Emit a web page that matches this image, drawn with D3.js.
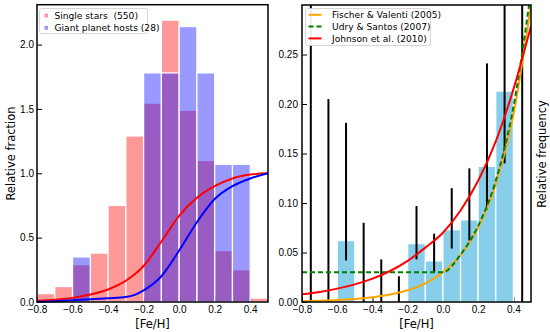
<!DOCTYPE html>
<html>
<head>
<meta charset="utf-8">
<script src="https://cdn.jsdelivr.net/npm/d3@7"></script>
<style>
  body { margin: 0; background: #fff; }
  svg { display: block; font-family: "DejaVu Sans", sans-serif; }
  .tick text { font-size: 10px; fill: #000; }
</style>
</head>
<body>
<div id="chart"></div>
<script>
// ---- data ----
var binStarts = [-0.8, -0.7, -0.6, -0.5, -0.4, -0.3, -0.2, -0.1, 0.0, 0.1, 0.2, 0.3, 0.4];
var singleStars = [0.065, 0.12, 0.29, 0.38, 0.75, 1.29, 1.545, 2.19, 1.49, 1.10, 0.40, 0.25, 0.03];
var planetHosts = [0, 0, 0.35, 0, 0, 0, 1.78, 1.78, 2.14, 1.78, 1.07, 1.07, 0];

var cdfX = [-0.8, -0.7, -0.6, -0.5, -0.4, -0.3, -0.25, -0.2, -0.1, 0.0, 0.1, 0.2, 0.3, 0.4, 0.5];
var cdfSingle = [0.01, 0.018, 0.032, 0.058, 0.097, 0.165, 0.215, 0.28, 0.47, 0.67, 0.81, 0.90, 0.96, 0.99, 1.0];
var cdfHosts = [0.002, 0.006, 0.013, 0.022, 0.029, 0.038, 0.055, 0.09, 0.2, 0.4, 0.62, 0.80, 0.90, 0.96, 1.0];

var freq = [0, 0, 0.062, 0, 0, 0, 0.059, 0.0415, 0.073, 0.083, 0.137, 0.213, 0];
var errCenter = [-0.75, -0.65, -0.55, -0.45, -0.35, -0.25, -0.15, -0.05, 0.05, 0.15, 0.25, 0.35, 0.45];
var errLow  = [0, 0, 0.042, 0, 0, 0, 0.043, 0.030, 0.054, 0.062, 0.093, 0.14, 0];
var errHigh = [0.32, 0.205, 0.181, 0.080, 0.043, 0.026, 0.097, 0.069, 0.115, 0.135, 0.241, 0.32, 0.32];

var modelX = [-0.8, -0.7, -0.6, -0.5, -0.4, -0.3, -0.2, -0.1, 0.0, 0.1, 0.2, 0.3, 0.4, 0.5];
var fischer = [0.00075, 0.0012, 0.0019, 0.003, 0.0048, 0.0075, 0.0119, 0.0189, 0.03, 0.0475, 0.0753, 0.119, 0.189, 0.30];
var udry    = [0.03, 0.03, 0.03, 0.03, 0.03, 0.03, 0.03, 0.03, 0.03, 0.0479, 0.0769, 0.1226, 0.197, 0.314];
var johnson = [0.0077, 0.0102, 0.0135, 0.0178, 0.0236, 0.0313, 0.0415, 0.0549, 0.07, 0.0924, 0.1224, 0.1622, 0.2148, 0.2786];

var xTicks = [-0.8, -0.6, -0.4, -0.2, 0.0, 0.2, 0.4];
var yTicksL = [0.0, 0.5, 1.0, 1.5, 2.0];
var yTicksR = [0.00, 0.05, 0.10, 0.15, 0.20, 0.25];

var svg = d3.select("#chart").append("svg")
    .attr("width", 550)
    .attr("height", 332);

function minus(s) { return s.replace("-", "\u2212"); }

// ================= left panel =================
var L = {left: 37, right: 268, top: 4.7, bottom: 302};
var xL = d3.scaleLinear().domain([-0.8, 0.5]).range([L.left, L.right]);
var yL = d3.scaleLinear().domain([0, 2.31]).range([L.bottom, L.top]);

var gl = svg.append("g");

gl.append("g")
    .attr("transform", "translate(0," + L.bottom + ")")
    .call(d3.axisBottom(xL).tickValues(xTicks).tickSizeInner(-5).tickSizeOuter(0).tickPadding(4)
        .tickFormat(function(d) { return minus(d3.format(".1f")(d)); }))
    .call(function(g) { g.select(".domain").remove(); });

gl.append("g")
    .attr("transform", "translate(" + L.left + ",0)")
    .call(d3.axisLeft(yL).tickValues(yTicksL).tickSizeInner(-5).tickSizeOuter(0).tickPadding(3)
        .tickFormat(d3.format(".1f")))
    .call(function(g) { g.select(".domain").remove(); });

var binW = 0.1;
gl.selectAll(".single").data(binStarts).enter().append("rect")
    .attr("class", "single")
    .attr("x", function(d) { return xL(d); })
    .attr("width", function(d) { return xL(d + binW) - xL(d); })
    .attr("y", function(d, i) { return yL(singleStars[i]); })
    .attr("height", function(d, i) { return yL(0) - yL(singleStars[i]); })
    .attr("fill", "#ff0000").attr("fill-opacity", 0.4)
    .attr("stroke", "#fff").attr("stroke-width", 1.2);

gl.selectAll(".hosts").data(binStarts).enter().append("rect")
    .attr("class", "hosts")
    .attr("x", function(d) { return xL(d); })
    .attr("width", function(d) { return xL(d + binW) - xL(d); })
    .attr("y", function(d, i) { return yL(planetHosts[i]); })
    .attr("height", function(d, i) { return yL(0) - yL(planetHosts[i]); })
    .attr("fill", "#0000ff").attr("fill-opacity", 0.4)
    .attr("stroke", "#fff").attr("stroke-width", function(d, i) { return planetHosts[i] > 0 ? 1.2 : 0; });

var cdfLine = d3.line().curve(d3.curveMonotoneX);
gl.append("path")
    .attr("d", cdfLine(cdfX.map(function(x, i) { return [xL(x), yL(cdfSingle[i])]; })))
    .attr("fill", "none").attr("stroke", "#ff0000").attr("stroke-width", 2);
gl.append("path")
    .attr("d", cdfLine(cdfX.map(function(x, i) { return [xL(x), yL(cdfHosts[i])]; })))
    .attr("fill", "none").attr("stroke", "#0000ff").attr("stroke-width", 2);

gl.append("rect")
    .attr("x", L.left).attr("y", L.top)
    .attr("width", L.right - L.left).attr("height", L.bottom - L.top)
    .attr("fill", "none").attr("stroke", "#000").attr("stroke-width", 1.5);

// legend
var legL = gl.append("g").attr("transform", "translate(39.5,8.5)");
legL.append("rect").attr("width", 108).attr("height", 25).attr("rx", 2)
    .attr("fill", "#fff").attr("fill-opacity", 0.9).attr("stroke", "#ccc").attr("stroke-width", 0.8);
var legLItems = [{label: "Single stars\u00a0\u00a0(550)", color: "#ff0000"}, {label: "Giant planet hosts (28)", color: "#0000ff"}];
legLItems.forEach(function(it, i) {
    legL.append("rect").attr("x", 5).attr("y", 5 + i * 12.3).attr("width", 3.5).attr("height", 4)
        .attr("fill", it.color).attr("fill-opacity", 0.4);
    legL.append("text").attr("x", 15).attr("y", 10.3 + i * 12.3)
        .attr("font-size", 9.1).attr("fill", "#000").text(it.label);
});

gl.append("text").attr("x", (L.left + L.right) / 2).attr("y", 327.5)
    .attr("text-anchor", "middle").attr("font-size", 11.5).text("[Fe/H]");
gl.append("text").attr("transform", "translate(15,153.5) rotate(-90)")
    .attr("text-anchor", "middle").attr("font-size", 11.5).text("Relative fraction");

// ================= right panel =================
var R = {left: 302, right: 531, top: 5, bottom: 302};
var xR = d3.scaleLinear().domain([-0.8, 0.5]).range([R.left, R.right]);
var yR = d3.scaleLinear().domain([0, 0.3]).range([R.bottom, R.top]);

var gr = svg.append("g");

svg.append("defs").append("clipPath").attr("id", "clipR")
    .append("rect").attr("x", R.left).attr("y", R.top)
    .attr("width", R.right - R.left).attr("height", R.bottom - R.top);

gr.append("g")
    .attr("transform", "translate(0," + R.bottom + ")")
    .call(d3.axisBottom(xR).tickValues(xTicks).tickSizeInner(-5).tickSizeOuter(0).tickPadding(4)
        .tickFormat(function(d) { return minus(d3.format(".1f")(d)); }))
    .call(function(g) { g.select(".domain").remove(); });

gr.append("g")
    .attr("transform", "translate(" + R.left + ",0)")
    .call(d3.axisLeft(yR).tickValues(yTicksR).tickSizeInner(-5).tickSizeOuter(0).tickPadding(4)
        .tickFormat(d3.format(".2f")))
    .call(function(g) { g.select(".domain").remove(); });

var plotR = gr.append("g").attr("clip-path", "url(#clipR)");

plotR.selectAll(".freq").data(binStarts).enter().append("rect")
    .attr("class", "freq")
    .attr("x", function(d) { return xR(d); })
    .attr("width", function(d) { return xR(d + binW) - xR(d); })
    .attr("y", function(d, i) { return yR(freq[i]); })
    .attr("height", function(d, i) { return yR(0) - yR(freq[i]); })
    .attr("fill", "#87ceeb")
    .attr("stroke", "#fff").attr("stroke-width", function(d, i) { return freq[i] > 0 ? 1.2 : 0; });

plotR.selectAll(".err").data(errCenter).enter().append("line")
    .attr("class", "err")
    .attr("x1", function(d) { return xR(d); })
    .attr("x2", function(d) { return xR(d); })
    .attr("y1", function(d, i) { return yR(errLow[i]); })
    .attr("y2", function(d, i) { return yR(errHigh[i]); })
    .attr("stroke", "#000").attr("stroke-width", 2);

var modelLine = d3.line().curve(d3.curveMonotoneX);
var models = [
    {vals: fischer, color: "#ffa500", dash: null, label: "Fischer & Valenti (2005)"},
    {vals: udry, color: "#008000", dash: "5,3", label: "Udry & Santos (2007)"},
    {vals: johnson, color: "#ff0000", dash: null, label: "Johnson et al. (2010)"}
];
models.forEach(function(m) {
    plotR.append("path")
        .attr("d", modelLine(modelX.map(function(x, i) { return [xR(x), yR(m.vals[i])]; })))
        .attr("fill", "none").attr("stroke", m.color).attr("stroke-width", 2)
        .attr("stroke-dasharray", m.dash);
});

gr.append("rect")
    .attr("x", R.left).attr("y", R.top)
    .attr("width", R.right - R.left).attr("height", R.bottom - R.top)
    .attr("fill", "none").attr("stroke", "#000").attr("stroke-width", 1.5);

var legR = gr.append("g").attr("transform", "translate(305.5,8.5)");
legR.append("rect").attr("width", 125).attr("height", 37).attr("rx", 2)
    .attr("fill", "#fff").attr("fill-opacity", 0.92).attr("stroke", "#ccc").attr("stroke-width", 0.8);
models.forEach(function(m, i) {
    var yy = 6.3 + i * 11.8;
    legR.append("line").attr("x1", 3).attr("x2", 16).attr("y1", yy).attr("y2", yy)
        .attr("stroke", m.color).attr("stroke-width", 2).attr("stroke-dasharray", m.dash);
    legR.append("text").attr("x", 26.5).attr("y", yy + 3.3)
        .attr("font-size", 9.1).attr("fill", "#000").text(m.label);
});

gr.append("text").attr("x", (R.left + R.right) / 2).attr("y", 327.5)
    .attr("text-anchor", "middle").attr("font-size", 11.5).text("[Fe/H]");
gr.append("text").attr("transform", "translate(546,154) rotate(-90)")
    .attr("text-anchor", "middle").attr("font-size", 11.5).text("Relative frequency");
</script>
</body>
</html>
